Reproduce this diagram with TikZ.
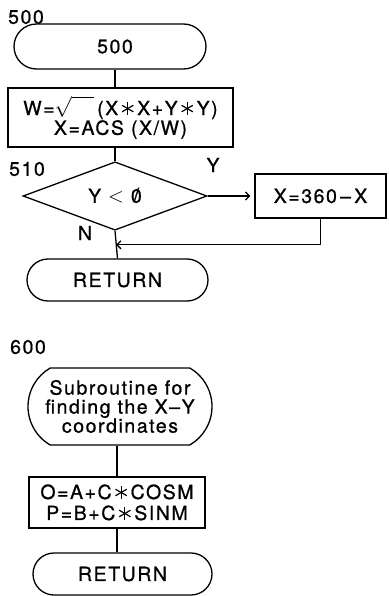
\documentclass[tikz,border=0pt]{standalone}
\usepackage{fontspec}
\setmainfont{TeX Gyre Heros}[LetterSpace=8,FakeBold=0.8]
\usetikzlibrary{calc,shapes.geometric,shapes.misc,arrows.meta}
\newcommand{\mul}{\,\tikz[x=1pt,y=1pt,line width=1.2pt,baseline=-6.5pt]
  {\foreach \a in {90,150,210} \draw (\a:6.5)--(\a+180:6.5);}\,}
\newcommand{\slzero}{\ooalign{0\cr\hidewidth\raisebox{.05em}{/}\hidewidth\cr}}

\begin{document}
\begin{tikzpicture}[x=1pt,y=-1pt,line width=1.3pt,
    txt/.style={font=\fontsize{19.5}{21}\selectfont},
    term/.style={txt,draw,rounded rectangle,inner sep=0pt,align=center},
    proc/.style={txt,draw,rectangle,inner sep=0pt,align=center},
    cond/.style={txt,draw,diamond,inner sep=0pt},
    arr/.style={-{Straight Barb[length=4pt,width=8pt]}}]
  \useasboundingbox (0,0) rectangle (388,596);
  \node[txt] (l500) at (26,17) {500};
  \node[term,minimum width=192pt,minimum height=45pt] (start) at (110,46.5) {\hspace{10pt}500};
  \node[proc,minimum width=225pt,minimum height=59pt,
        font=\fontsize{19.5}{16}\selectfont] (calcw) at (120.5,117.5)
    {W=$\sqrt{\vphantom{X}\hspace{22pt}}$\,(X\mul X+Y\mul Y)\\X=ACS (X/W)};
  \node[txt] (l510) at (27,169) {510};
  \node[cond,minimum width=184pt,minimum height=42pt] (test) at (115,196) {Y $<$ \slzero};
  \node[txt] (ly) at (213,165) {Y};
  \node[proc,minimum width=131pt,minimum height=44pt] (flip) at (320.5,196) {X=360\,–\,X};
  \node[txt] (ln) at (85,233) {N};
  \node[term,minimum width=181pt,minimum height=42pt] (ret1) at (117.5,280) {RETURN};
  \path (test.south) ++(0,14) coordinate (join);
  \draw (start.south -| test.north) -- (calcw.north -| test.north);
  \draw (calcw.south -| test.north) -- (test.north);
  \draw[arr,shorten >=4pt] (test.east) -- (flip.west);
  \draw[arr,shorten >=1pt] (flip.south) |- (join);
  \draw (test.south) -- (ret1.north);

  \node[txt] (l600) at (28,347) {600};
  \node[term,rounded rectangle arc length=120,minimum width=184pt,minimum height=77pt,
        font=\fontsize{19.5}{19}\selectfont] (sub) at (120,406.5)
    {Subroutine for\\finding the X–Y\\coordinates};
  \node[proc,minimum width=176pt,minimum height=51pt] (pos) at (117,502.5)
    {O=A+C\mul COSM\\P=B+C\mul SINM};
  \node[term,minimum width=179pt,minimum height=42pt] (ret2) at (122.5,574) {RETURN};
  \draw (sub.south -| pos.north) -- (pos.north);
  \draw (pos.south) -- (ret2.north -| pos.south);
\end{tikzpicture}
\end{document}
